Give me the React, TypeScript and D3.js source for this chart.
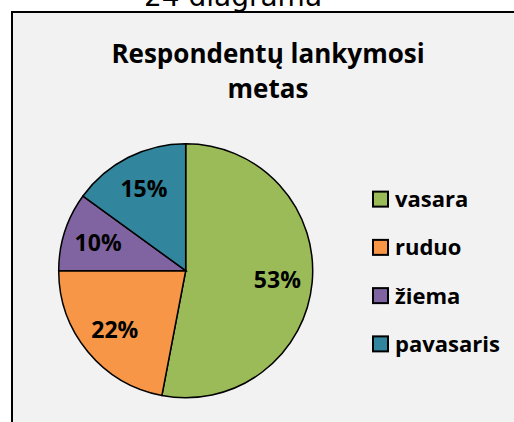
import React from "react";
import * as d3 from "d3";

const categories = ["vasara", "ruduo", "žiema", "pavasaris"];
const values = [53, 22, 10, 15];
const colors = ["#9bbb59", "#f79646", "#8064a2", "#31859c"];
const titleLines = ["Respondentų lankymosi", "metas"];
const captionText = "24 diagrama";

const W = 514;
const H = 422;
const FONT = "'Open Sans', Lato, sans-serif";

export default function App() {
  const cx = 185.7;
  const cy = 270.7;
  const r = 127;
  const pie = d3.pie<number>().sort(null).value((d) => d).startAngle(0).endAngle(2 * Math.PI);
  const arcs = pie(values);
  const arc = d3.arc<d3.PieArcDatum<number>>().innerRadius(0).outerRadius(r);
  const labelArc = d3.arc<d3.PieArcDatum<number>>().innerRadius(r * 0.725).outerRadius(r * 0.725);
  const total = d3.sum(values);
  const legendY = d3.scaleBand<string>().domain(categories).range([175, 368]);

  return (
    <svg width={W} height={H} style={{ position: "absolute", left: 0, top: 0, display: "block" }}>
      <rect x={0} y={0} width={W} height={H} fill="#ffffff" />
      <text x={233} y={6} textAnchor="middle" fontFamily="'DejaVu Sans', sans-serif" fontSize={28} fill="#000">
        {captionText}
      </text>
      <rect x={12} y={12} width={W + 20} height={H + 20} fill="#f2f2f2" stroke="#000" strokeWidth={2} />
      {titleLines.map((t, i) => (
        <text key={i} x={268} y={63 + i * 35} textAnchor="middle" fontFamily={FONT} fontWeight="bold" fontSize={26} fill="#000">
          {t}
        </text>
      ))}
      <g transform={`translate(${cx},${cy})`}>
        {arcs.map((a, i) => (
          <path key={i} d={arc(a) || ""} fill={colors[i]} stroke="#000" strokeWidth={1.5} />
        ))}
        {arcs.map((a, i) => {
          const [x, y] = labelArc.centroid(a);
          return (
            <text key={"l" + i} x={x} y={y + 8.5} textAnchor="middle" fontFamily={FONT} fontWeight="bold" fontSize={23} fill="#000">
              {`${Math.round((values[i] / total) * 100)}%`}
            </text>
          );
        })}
      </g>
      {categories.map((c, i) => {
        const y0 = (legendY(c) || 0) + legendY.bandwidth() / 2;
        return (
          <g key={c}>
            <rect x={373} y={y0 - 7.5} width={15} height={15} fill={colors[i]} stroke="#000" strokeWidth={2} />
            <text x={395} y={y0 + 8} fontFamily={FONT} fontWeight="bold" fontSize={22} fill="#000">
              {c}
            </text>
          </g>
        );
      })}
    </svg>
  );
}
